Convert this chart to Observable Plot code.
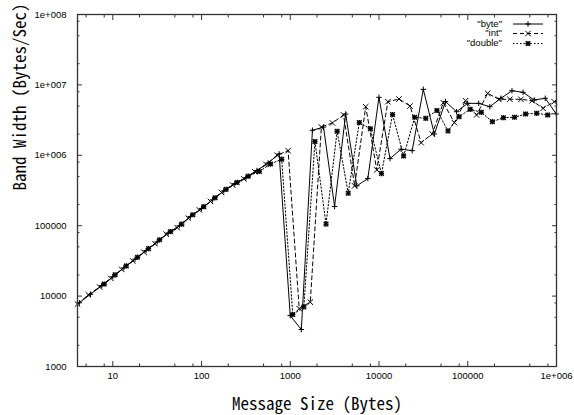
<!DOCTYPE html>
<html><head><meta charset="utf-8">
<script src="https://cdn.jsdelivr.net/npm/d3@7"></script>
<script src="https://cdn.jsdelivr.net/npm/@observablehq/plot@0.6"></script>
<style>
html,body{margin:0;padding:0;background:#fff;}
</style>
</head><body>
<div id="chart"></div>
<script>
// ---- data ----
const byteSize = [3.16, 4.2, 5.6, 7.5, 10, 13.3, 17.8, 23.7, 31.6, 42.1, 56.2, 74.9, 99.9, 133, 178, 237, 316, 421, 562,
  749, 999, 1332, 1776, 2368, 3157, 4209, 5612, 7483, 9977, 13303, 17737, 23650, 31533, 42044, 56059, 74745, 99660,
  132880, 177174, 236232, 314976, 419968, 559957, 746610, 995480];
const byteBW = [6280, 8030, 10620, 14060, 18850, 25200, 33450, 44360, 58750, 78700, 100000, 134800, 176100, 233200, 312600, 396000, 480500, 608300, 777300,
  1046000, 5280, 3346, 2267000, 2520000, 187300, 3860000, 368000, 467000, 6660000, 897000, 1220000, 1165000, 8650000, 2010000, 5800000, 4160000, 5470000,
  5470000, 4900000, 6450000, 8260000, 7840000, 6100000, 6450000, 3860000];

const intSize = [4, 5.3, 7.1, 9.5, 12.6, 16.8, 22.4, 29.9, 39.9, 53.2, 70.9, 94.6, 126, 168, 224, 299, 399, 532, 709,
  945, 1260, 1680, 2240, 2987, 3982, 5310, 7080, 9440, 12586, 16782, 22376, 29834, 39779, 53039, 70719, 94292,
  125723, 167630, 223507, 298009, 397346, 529794, 706392, 941856, 1255808];
const intBW = [7700, 10440, 13480, 17850, 23930, 31590, 42000, 55420, 75620, 93600, 128200, 167100, 220900, 296300, 378000, 462800, 582100, 741300, 1002000,
  1165000, 6640, 8210, 2520000, 2880000, 3740000, 368000, 4900000, 620000, 5770000, 6300000, 5010000, 1510000, 2010000, 5580000, 2910000, 5960000,
  3740000, 7590000, 6240000, 6250000, 6240000, 5960000, 4650000, 5770000, 6000000];

const doubleSize = [8, 10.6, 14.2, 19, 25.3, 33.7, 44.9, 59.9, 79.8, 106, 142, 189, 252, 336, 448, 598,
  800, 1067, 1422, 1896, 2528, 3371, 4495, 5993, 7990, 10654, 14205, 18940, 25253, 33671, 44895, 59860,
  79813, 106418, 141890, 189187, 252249, 336332, 448443, 597924, 797232, 1062976];
const doubleBW = [14870, 20060, 26840, 35680, 47240, 63140, 82600, 105300, 142900, 186300, 249300, 328600, 412200, 504700, 590000, 750000,
  880000, 5460, 7020, 1568000, 105400, 2195000, 290000, 2920000, 2380000, 550000, 3800000, 980000, 3470000, 3350000, 4330000, 2220000,
  3530000, 4500000, 4080000, 3000000, 3420000, 3470000, 3860000, 3950000, 3740000, 4100000];

const xMajor = [10, 100, 1000, 10000, 100000, 1000000];
const xMajorLabels = ["10", "100", "1000", "10000", "100000", "1e+006"];
const xMinor = [5, 8, 20, 50, 80, 200, 500, 800, 2000, 5000, 8000, 20000, 50000, 80000, 200000, 500000, 800000];
const yMajor = [1000, 10000, 100000, 1000000, 10000000, 100000000];
const yMajorLabels = ["1000", "10000", "100000", "1e+006", "1e+007", "1e+008"];
const yMinor = [2000, 5000, 8000, 20000, 50000, 80000, 200000, 500000, 800000, 2000000, 5000000, 8000000, 20000000, 50000000, 80000000];
const xTitle = "Message Size (Bytes)";
const yTitle = "Band Width (Bytes/Sec)";
const seriesNames = ['"byte"', '"int"', '"double"'];
const xDomain = [4, 1000000];
const yDomain = [1000, 100000000];

// ---- build ----
const rows = (xs, ys) => xs.map((x, i) => ({size: x, bw: ys[i]}));
const byteRows = rows(byteSize, byteBW);
const intRows = rows(intSize, intBW);
const doubleRows = rows(doubleSize, doubleBW);
const inDomain = d => d.size >= xDomain[0] && d.size <= xDomain[1];
const xLab = new Map(xMajor.map((v, i) => [v, xMajorLabels[i]]));
const yLab = new Map(yMajor.map((v, i) => [v, yMajorLabels[i]]));
const titleFont = "'Noto Sans Mono CJK JP', 'Noto Sans CJK JP', 'DejaVu Sans Mono', monospace";
const tickColor = "#333";
const none = () => "";
const plusR = 1.9, timesR = 2.6, dPlusR = 1.8, dTimesR = 2.2;

const svg = Plot.plot({
  width: 574, height: 415,
  marginLeft: 77, marginRight: 18, marginTop: 14, marginBottom: 49,
  style: {background: "#fff", fontFamily: "'Liberation Sans', Arial, sans-serif", fontSize: "9.5px", color: "#000"},
  x: {type: "log", domain: xDomain},
  y: {type: "log", domain: yDomain},
  marks: [
    Plot.axisX(xMajor, {anchor: "bottom", tickSize: -5, tickPadding: 11, tickFormat: d => xLab.get(d), label: null, stroke: tickColor}),
    Plot.axisX(xMajor, {anchor: "top", tickSize: -5, tickFormat: none, label: null, stroke: tickColor}),
    Plot.axisX(xMinor, {anchor: "bottom", tickSize: -2.5, tickFormat: none, label: null, stroke: tickColor}),
    Plot.axisX(xMinor, {anchor: "top", tickSize: -2.5, tickFormat: none, label: null, stroke: tickColor}),
    Plot.axisY(yMajor, {anchor: "left", tickSize: -5, tickPadding: 16, tickFormat: d => yLab.get(d), label: null, stroke: tickColor}),
    Plot.axisY(yMajor, {anchor: "right", tickSize: -5, tickFormat: none, label: null, stroke: tickColor}),
    Plot.axisY(yMinor, {anchor: "left", tickSize: -2.5, tickFormat: none, label: null, stroke: tickColor}),
    Plot.axisY(yMinor, {anchor: "right", tickSize: -2.5, tickFormat: none, label: null, stroke: tickColor}),
    Plot.line(doubleRows, {x: "size", y: "bw", stroke: "#000", strokeWidth: 1, strokeDasharray: "1.5,2", clip: true}),
    Plot.line(intRows, {x: "size", y: "bw", stroke: "#000", strokeWidth: 1, strokeDasharray: "4,3", clip: true}),
    Plot.line(byteRows, {x: "size", y: "bw", stroke: "#000", strokeWidth: 1, clip: true}),
    Plot.dot(doubleRows.filter(inDomain), {x: "size", y: "bw", symbol: "plus", r: dPlusR, stroke: "#000", strokeWidth: 1.4}),
    Plot.dot(doubleRows.filter(inDomain), {x: "size", y: "bw", symbol: "times", r: dTimesR, stroke: "#000", strokeWidth: 1.4}),
    Plot.dot(intRows.filter(inDomain), {x: "size", y: "bw", symbol: "times", r: timesR, stroke: "#000", strokeWidth: 1}),
    Plot.dot(byteRows.filter(inDomain), {x: "size", y: "bw", symbol: "plus", r: plusR, stroke: "#000", strokeWidth: 1}),
    Plot.frame({stroke: "#333", strokeWidth: 1.3}),
    Plot.text([xTitle], {text: d => d, frameAnchor: "bottom", dy: 43, fontFamily: titleFont, fontSize: 17, fill: "#000"}),
    Plot.text([yTitle], {text: d => d, frameAnchor: "left", dx: -57, rotate: -90, fontFamily: titleFont, fontSize: 17, fill: "#000"})
  ]
});
document.getElementById("chart").appendChild(svg);
// drop the empty tick texts of the mirror / minor axes
d3.select(svg).selectAll("text").filter(function() { return this.textContent === ""; }).remove();

// ---- legend (gnuplot style, top-right inside the frame) ----
const lg = d3.select(svg).append("g").attr("font-family", "'Liberation Sans', Arial, sans-serif").attr("font-size", "9.5px");
const dashes = [null, "4,3", "1.5,2"];
const rowY = [24, 33.5, 43.5];
seriesNames.forEach((name, i) => {
  const y = rowY[i];
  lg.append("text").attr("x", 502).attr("y", y).attr("text-anchor", "end").attr("dominant-baseline", "middle").text(name);
  lg.append("line").attr("x1", 513).attr("x2", 543).attr("y1", y).attr("y2", y)
    .attr("stroke", "#000").attr("stroke-dasharray", dashes[i]);
  const g = lg.append("g").attr("transform", `translate(528,${y})`).attr("fill", "none").attr("stroke", "#000");
  if (i === 0) g.append("path").attr("d", d3.symbol(d3.symbolPlus, Math.PI * plusR * plusR)());
  if (i === 1) g.append("path").attr("d", d3.symbol(d3.symbolTimes, Math.PI * timesR * timesR)());
  if (i === 2) {
    g.attr("stroke-width", 1.4);
    g.append("path").attr("d", d3.symbol(d3.symbolPlus, Math.PI * dPlusR * dPlusR)());
    g.append("path").attr("d", d3.symbol(d3.symbolTimes, Math.PI * dTimesR * dTimesR)());
  }
});
</script>
</body></html>
